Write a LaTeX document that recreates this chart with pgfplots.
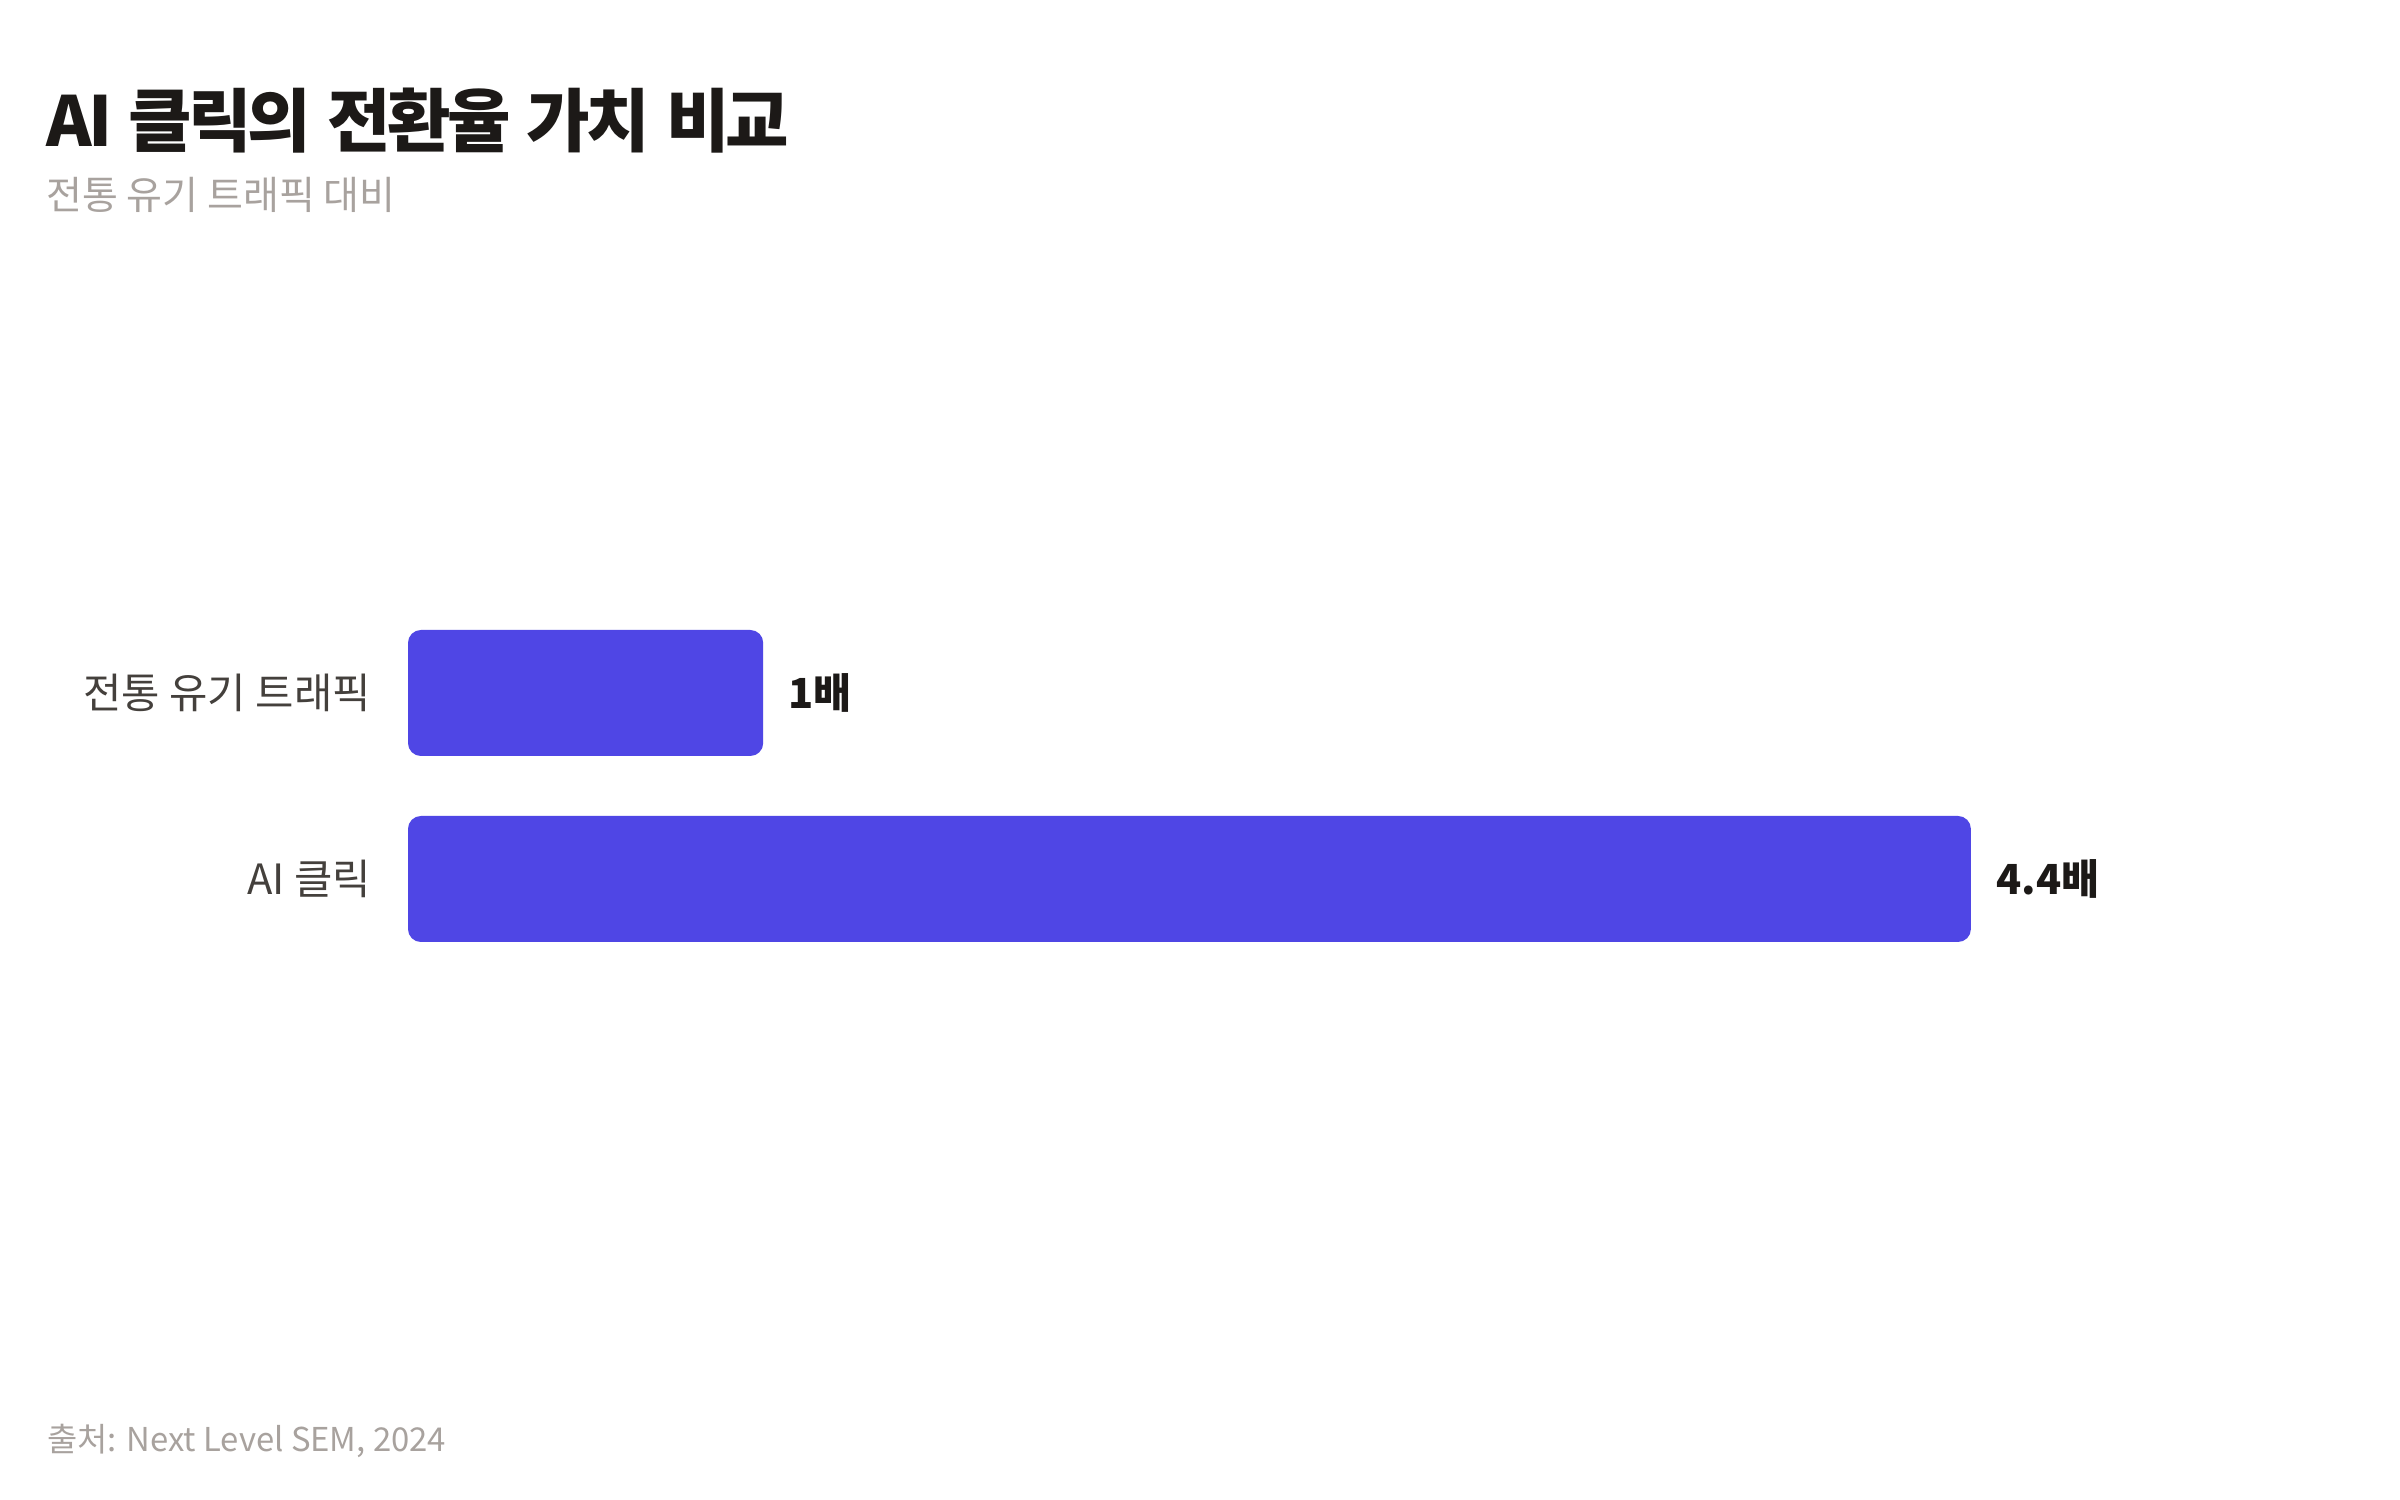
\documentclass[border=0pt]{standalone}
\usepackage{fontspec}
\usepackage{pgfplots}
\pgfplotsset{compat=1.18}
\setmainfont{Noto Sans CJK KR}
\newfontfamily\titlefont{Noto Sans CJK KR}[LetterSpace=-5.5, WordSpace=1.35]

\definecolor{barblue}{HTML}{4F46E5}
\definecolor{ink}{HTML}{1C1917}
\definecolor{catgray}{HTML}{44403C}
\definecolor{mutedgray}{HTML}{A8A29E}

\begin{document}
\begin{tikzpicture}
\useasboundingbox[fill=white] (0,0) rectangle (800pt,500pt);

\node[anchor=base west, inner sep=0pt, text=ink] at (15.3pt,451pt)
    {\titlefont\bfseries\fontsize{23pt}{28pt}\selectfont AI 클릭의 전환율 가치 비교};
\node[anchor=base west, inner sep=0pt, text=mutedgray] at (15.3pt,430pt)
    {\fontsize{13pt}{15pt}\selectfont 전통 유기 트래픽 대비};
\node[anchor=base west, inner sep=0pt, text=mutedgray] at (15.5pt,16pt)
    {\fontsize{10.95pt}{13pt}\selectfont 출처: Next Level SEM, 2024};

\begin{axis}[
    at={(136pt,145pt)},
    anchor=south west,
    scale only axis,
    width=592pt,
    height=186pt,
    xmin=0, xmax=5,
    ymin=0, ymax=3,
    enlargelimits=false,
    clip=false,
    axis line style={draw=none},
    tick style={draw=none},
    xtick=\empty,
    ytick={1,2},
    yticklabels={AI 클릭, 전통 유기 트래픽},
    yticklabel style={inner sep=0pt, xshift=-12.2pt, text=catgray,
        font=\fontsize{13.9pt}{16pt}\selectfont},
]
\addplot[xbar, bar width=42pt, fill=barblue, draw=none, rounded corners=4.3pt,
    point meta=explicit symbolic,
    nodes near coords,
    nodes near coords style={anchor=west, inner sep=0pt, xshift=8.3pt,
        text=ink, font=\bfseries\fontsize{13.8pt}{16pt}\selectfont}]
    coordinates {
    (1,2) [1배]
    (4.4,1) [4.4배]
};
\end{axis}
\end{tikzpicture}
\end{document}
